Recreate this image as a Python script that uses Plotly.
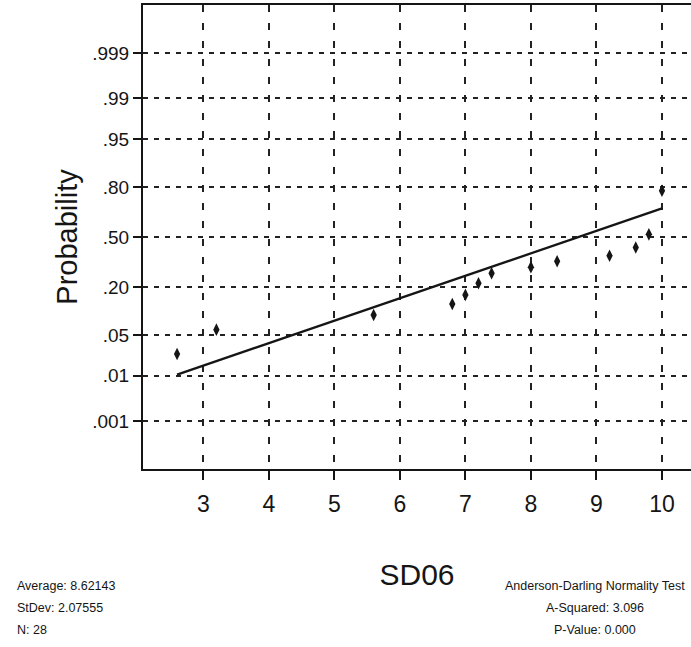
import numpy as np
import plotly.graph_objects as go
from statistics import NormalDist

# ---- data ----
sd06_values = [2.6, 3.2, 5.6, 6.8, 7.0, 7.2, 7.4, 8.0, 8.4, 9.2, 9.6, 9.8, 10.0]
sd06_counts = [1, 1, 1, 1, 1, 2, 1, 1, 1, 1, 2, 3, 12]

x_ticks = [3, 4, 5, 6, 7, 8, 9, 10]
prob_ticks = [0.001, 0.01, 0.05, 0.20, 0.50, 0.80, 0.95, 0.99, 0.999]
prob_labels = [".001", ".01", ".05", ".20", ".50", ".80", ".95", ".99", ".999"]

stats_left = ["Average: 8.62143", "StDev: 2.07555", "N: 28"]
stats_right = ["Anderson-Darling Normality Test", "A-Squared: 3.096", "P-Value: 0.000"]

# ---- normal probability plotting positions (ties -> average rank) ----
nd = NormalDist()
n_total = sum(sd06_counts)
z_points = []
x_all, z_all = [], []
start = 1
for v, c in zip(sd06_values, sd06_counts):
    r = start + (c - 1) / 2.0
    p = (r - 0.3) / (n_total + 0.4)
    z = nd.inv_cdf(p)
    z_points.append(z)
    x_all += [v] * c
    z_all += [z] * c
    start += c

slope, intercept = np.polyfit(x_all, z_all, 1)
line_x = [min(sd06_values), max(sd06_values)]
line_z = [slope * xv + intercept for xv in line_x]

z_ticks = [nd.inv_cdf(p) for p in prob_ticks]

FONT = "Liberation Sans, Arial, sans-serif"
INK = "#151515"

fig = go.Figure()
fig.add_trace(go.Scatter(x=line_x, y=line_z, mode="lines",
                         line=dict(color=INK, width=2.3), hoverinfo="skip"))
fig.add_trace(go.Scatter(x=sd06_values, y=z_points, mode="markers",
                         marker=dict(symbol="diamond-tall", size=9, color=INK)))

fig.update_layout(
    width=691, height=647,
    margin=dict(l=143, r=0, t=5, b=178),
    paper_bgcolor="white", plot_bgcolor="white",
    showlegend=False,
    font=dict(family=FONT, color=INK),
    xaxis=dict(
        range=[2.08, 10.443], tickvals=x_ticks,
        ticks="outside", ticklen=9, tickwidth=2, tickcolor=INK,
        showline=True, linewidth=2, linecolor=INK, mirror=True,
        showgrid=True, gridcolor="#222", gridwidth=2, griddash="7px,11px",
        zeroline=False, ticklabelstandoff=4,
        tickfont=dict(size=23, family=FONT, color=INK),
        title=dict(text="SD06", font=dict(size=30, family=FONT, color=INK), standoff=48),
    ),
    yaxis=dict(
        range=[-3.896, 3.896], tickvals=z_ticks, ticktext=prob_labels,
        ticks="outside", ticklen=8, tickwidth=2, tickcolor=INK,
        showline=True, linewidth=2, linecolor=INK, mirror=False,
        showgrid=True, gridcolor="#222", gridwidth=2, griddash="5px,6px",
        zeroline=False,
        tickfont=dict(size=19, family=FONT, color=INK),
        title=dict(text="Probability", font=dict(size=29, family=FONT, color=INK), standoff=6),
    ),
)

left_y = [-0.252, -0.2996, -0.347]
for txt, yy in zip(stats_left, left_y):
    fig.add_annotation(text=txt, xref="paper", yref="paper", x=-0.2336, y=yy,
                       xanchor="left", yanchor="middle", showarrow=False,
                       font=dict(size=12.5, family=FONT, color=INK))
for txt, yy in zip(stats_right, left_y):
    fig.add_annotation(text=txt, xref="paper", yref="paper", x=0.8248, y=yy,
                       xanchor="center", yanchor="middle", showarrow=False,
                       font=dict(size=12.5, family=FONT, color=INK))

fig.write_html("out.html", config={"displayModeBar": False},
               post_script="document.body.style.margin='0px';")
